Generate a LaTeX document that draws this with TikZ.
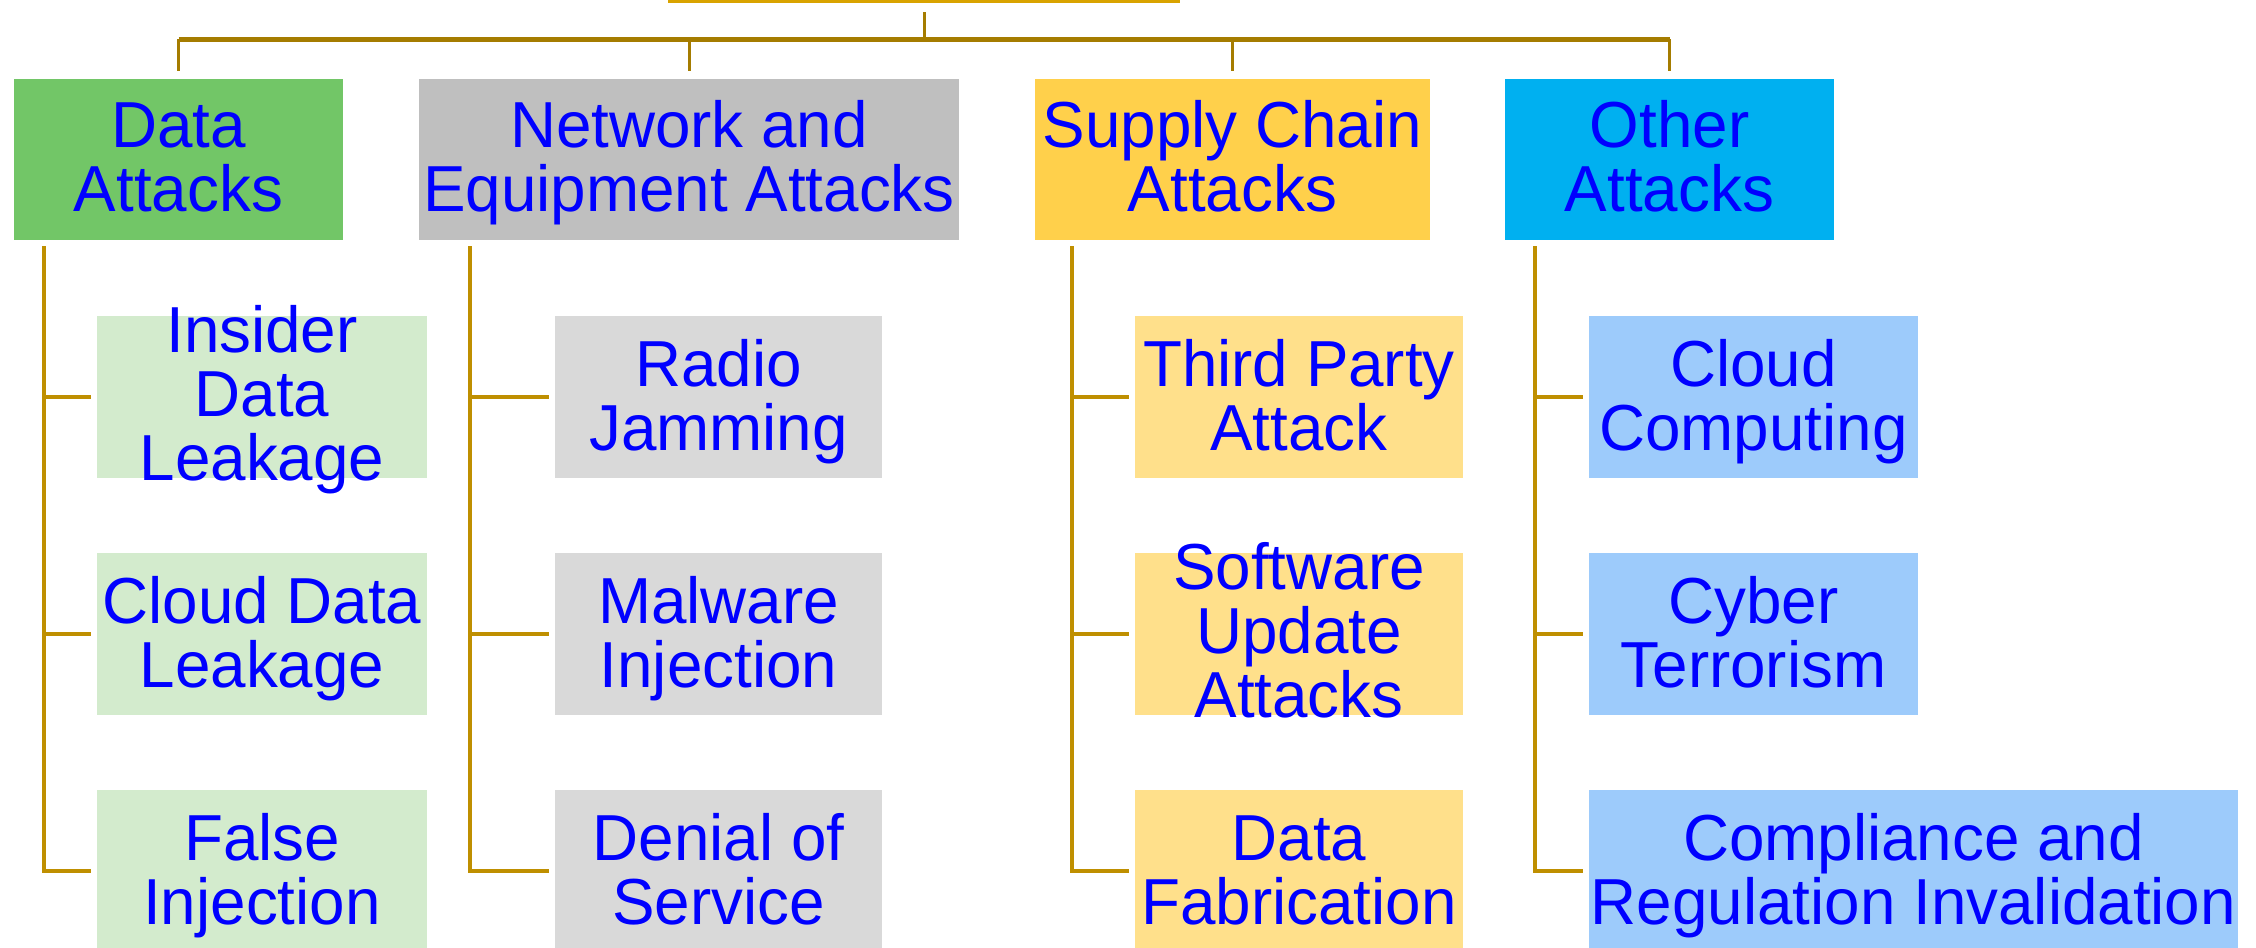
\documentclass[tikz,border=0pt]{standalone}
\usepackage{fontspec}
\setmainfont{Liberation Sans}[FakeStretch=0.98]
\definecolor{txtblue}{HTML}{0000FF}
\definecolor{rootgold}{HTML}{D9A300}
\definecolor{bargold}{HTML}{A57C00}
\definecolor{linegold}{HTML}{BF8F00}
\definecolor{cgreen}{HTML}{72C667}
\definecolor{cgray}{HTML}{BFBFBF}
\definecolor{cyellow}{HTML}{FFD04B}
\definecolor{cblue}{HTML}{00B0F0}
\definecolor{kgreen}{HTML}{D3EBCD}
\definecolor{kgray}{HTML}{D9D9D9}
\definecolor{kyellow}{HTML}{FFE08B}
\definecolor{kblue}{HTML}{9DCBFB}
\tikzset{
  box/.style={inner sep=0pt, align=center, text=txtblue,
    font=\fontsize{18.5}{18.2}\selectfont, minimum height=1.62cm,
    text height=1.06cm, text depth=0cm},
  tribox/.style={box, text height=1.67cm, text depth=0cm, inner ysep=-0.025cm},
  catbox/.style={box, minimum height=1.61cm, text height=1.03cm},
  topline/.style={draw=bargold, line width=0.05cm},
  catline/.style={draw=bargold, line width=0.03cm},
  branch/.style={draw=linegold, line width=0.04cm},
}
\begin{document}
\begin{tikzpicture}[x=0.01cm, y=-0.01cm]
\useasboundingbox (0,0) rectangle (2256,948);
\begin{scope}
\clip (0,0) rectangle (2256,948);
% root (only its lower edge is visible)
\node[draw=rootgold, line width=0.03cm, minimum width=5.08cm, minimum height=1.5cm, inner sep=0pt, anchor=south] (root) at (924,3) {};
% categories
\node[catbox, fill=cgreen,  minimum width=3.29cm] (da) at (178.5,159.5) {Data\\Attacks};
\node[catbox, fill=cgray,   minimum width=5.40cm] (ne) at (689,159.5) {Network and\\Equipment Attacks};
\node[catbox, fill=cyellow, minimum width=3.95cm] (sc) at (1232.5,159.5) {Supply Chain\\Attacks};
\node[catbox, fill=cblue,   minimum width=3.29cm] (ot) at (1669.5,159.5) {Other\\Attacks};
% children
\node[tribox, fill=kgreen, minimum width=3.30cm] (da1) at (262,397) {Insider\\Data\\Leakage};
\node[box, fill=kgreen, minimum width=3.30cm] (da2) at (262,634) {Cloud Data\\Leakage};
\node[box, fill=kgreen, minimum width=3.30cm] (da3) at (262,871) {False\\Injection};
\node[box, fill=kgray, minimum width=3.27cm] (ne1) at (718.5,397) {Radio\\Jamming};
\node[box, fill=kgray, minimum width=3.27cm] (ne2) at (718.5,634) {Malware\\Injection};
\node[box, fill=kgray, minimum width=3.27cm] (ne3) at (718.5,871) {Denial of\\Service};
\node[box, fill=kyellow, minimum width=3.28cm] (sc1) at (1299,397) {Third Party\\Attack};
\node[tribox, fill=kyellow, minimum width=3.28cm] (sc2) at (1299,634) {Software\\Update\\Attacks};
\node[box, fill=kyellow, minimum width=3.28cm] (sc3) at (1299,871) {Data\\Fabrication};
\node[box, fill=kblue, minimum width=3.29cm] (ot1) at (1753.5,397) {Cloud\\Computing};
\node[box, fill=kblue, minimum width=3.29cm] (ot2) at (1753.5,634) {Cyber\\Terrorism};
\node[box, fill=kblue, minimum width=6.49cm] (ot3) at (1913.5,871) {Compliance and\\Regulation Invalidation};
% root to categories
\coordinate (rootdown) at ([yshift=-0.09cm]root.south);
\coordinate (bar) at (924,39);
\draw[catline] (rootdown) -- (bar);
\draw[topline] (da.north |- bar) -- (ot.north |- bar);
\foreach \c in {da,ne,sc,ot}{
  \draw[catline] (\c.north |- bar) -- ([yshift=0.07cm]\c.north);
}
% category spines
\coordinate (dspine) at (44,246);
\coordinate (nspine) at (470,246);
\coordinate (sspine) at (1072,246);
\coordinate (ospine) at (1535,246);
\draw[branch] (dspine) |- ([xshift=-0.05cm]da3.west);
\draw[branch] (dspine |- da1.west) -- ([xshift=-0.05cm]da1.west);
\draw[branch] (dspine |- da2.west) -- ([xshift=-0.05cm]da2.west);
\draw[branch] (nspine) |- ([xshift=-0.05cm]ne3.west);
\draw[branch] (nspine |- ne1.west) -- ([xshift=-0.05cm]ne1.west);
\draw[branch] (nspine |- ne2.west) -- ([xshift=-0.05cm]ne2.west);
\draw[branch] (sspine) |- ([xshift=-0.05cm]sc3.west);
\draw[branch] (sspine |- sc1.west) -- ([xshift=-0.05cm]sc1.west);
\draw[branch] (sspine |- sc2.west) -- ([xshift=-0.05cm]sc2.west);
\draw[branch] (ospine) |- ([xshift=-0.05cm]ot3.west);
\draw[branch] (ospine |- ot1.west) -- ([xshift=-0.05cm]ot1.west);
\draw[branch] (ospine |- ot2.west) -- ([xshift=-0.05cm]ot2.west);
\end{scope}
\end{tikzpicture}
\end{document}
